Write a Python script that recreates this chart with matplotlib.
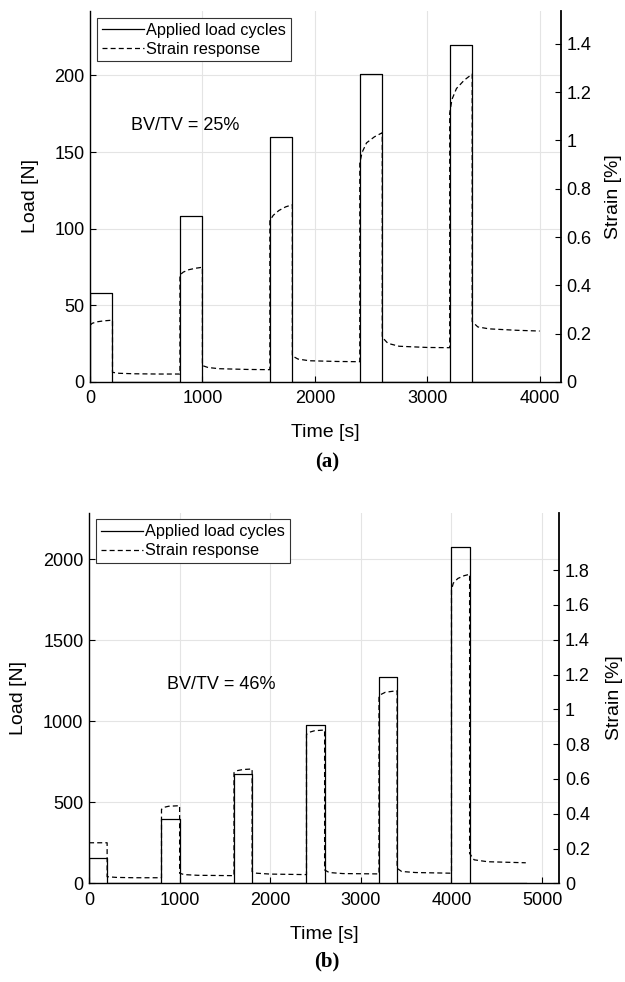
import numpy as np
import matplotlib.pyplot as plt
from matplotlib.ticker import FuncFormatter

plt.rcParams['font.family'] = ['Liberation Sans', 'DejaVu Sans']

# ---- (a) BV/TV = 25% ----
load_t_a = [0, 0, 200, 200, 800, 800, 1000, 1000, 1600, 1600, 1800, 1800,
            2400, 2400, 2600, 2600, 3200, 3200, 3400, 3400, 4000]
load_a = [0, 58, 58, 0, 0, 108, 108, 0, 0, 160, 160, 0,
          0, 201, 201, 0, 0, 220, 220, 0, 0]

strain_t_a = [0, 0, 20, 60, 120, 200, 200, 260, 400, 600, 800,
              800, 830, 880, 940, 1000, 1000, 1050, 1150, 1400, 1600,
              1600, 1630, 1680, 1740, 1800, 1800, 1850, 1950, 2200, 2400,
              2400, 2420, 2460, 2530, 2600, 2600, 2650, 2750, 3000, 3200,
              3200, 3220, 3260, 3330, 3400, 3400, 3450, 3550, 3800, 4000]
strain_a = [0, 0.235, 0.243, 0.249, 0.253, 0.256, 0.040, 0.036, 0.034, 0.033, 0.033,
            0.443, 0.455, 0.465, 0.471, 0.475, 0.068, 0.060, 0.055, 0.052, 0.051,
            0.668, 0.690, 0.710, 0.725, 0.734, 0.108, 0.095, 0.088, 0.085, 0.084,
            0.906, 0.950, 0.990, 1.015, 1.032, 0.185, 0.160, 0.148, 0.143, 0.142,
            1.113, 1.170, 1.215, 1.250, 1.275, 0.250, 0.228, 0.220, 0.214, 0.211]

# ---- (b) BV/TV = 46% ----
load_t_b = [0, 0, 200, 200, 800, 800, 1000, 1000, 1600, 1600, 1800, 1800,
            2400, 2400, 2600, 2600, 3200, 3200, 3400, 3400, 4000, 4000,
            4200, 4200, 4820]
load_b = [0, 155, 155, 0, 0, 395, 395, 0, 0, 675, 675, 0,
          0, 975, 975, 0, 0, 1272, 1272, 0, 0, 2075, 2075, 0, 0]

strain_t_b = [0, 0, 200, 200, 300, 500, 800,
              800, 830, 880, 1000, 1000, 1050, 1200, 1600,
              1600, 1640, 1700, 1800, 1800, 1850, 2000, 2400,
              2400, 2430, 2490, 2600, 2600, 2650, 2800, 3200,
              3200, 3220, 3270, 3400, 3400, 3450, 3600, 4000,
              4000, 4020, 4070, 4140, 4200, 4200, 4250, 4400, 4820]
strain_b = [0, 0.233, 0.233, 0.038, 0.034, 0.032, 0.032,
            0.425, 0.437, 0.443, 0.446, 0.058, 0.050, 0.046, 0.044,
            0.636, 0.648, 0.654, 0.657, 0.067, 0.058, 0.053, 0.050,
            0.856, 0.868, 0.877, 0.881, 0.077, 0.062, 0.056, 0.054,
            1.069, 1.085, 1.098, 1.107, 0.086, 0.068, 0.062, 0.058,
            1.686, 1.725, 1.752, 1.768, 1.776, 0.172, 0.135, 0.124, 0.118]

panels = [
    dict(rect=[0.144, 0.611, 0.7536, 0.3778], lt=load_t_a, l=load_a, st=strain_t_a, s=strain_a,
         xlim=4190, ylim=242, yticks=np.arange(0, 201, 50), slim=1.536, sticks=np.arange(0, 1.41, 0.2),
         xticks=np.arange(0, 4001, 1000), txt='BV/TV = 25%', txy=(364, 167), lab='(a)', laby=0.5295,
         loadx=-0.127, strx=1.1125),
    dict(rect=[0.1424, 0.1005, 0.7525, 0.3774], lt=load_t_b, l=load_b, st=strain_t_b, s=strain_b,
         xlim=5190, ylim=2288, yticks=np.arange(0, 2001, 500), slim=2.13, sticks=np.arange(0, 1.81, 0.2),
         xticks=np.arange(0, 5001, 1000), txt='BV/TV = 46%', txy=(858, 1230), lab='(b)', laby=0.0204,
         loadx=-0.150, strx=1.118),
]

fig = plt.figure(figsize=(6.25, 9.82), dpi=100)
fmt = FuncFormatter(lambda v, p: '%g' % round(v, 6))

for p in panels:
    ax = fig.add_axes(p['rect'])
    ax2 = ax.twinx()
    h1, = ax.plot(p['lt'], p['l'], color='black', lw=0.9, label='Applied load cycles')
    h2, = ax2.plot(p['st'], p['s'], color='black', lw=0.9, dashes=(4, 2.5), label='Strain response')

    ax.set_xlim(0, p['xlim'])
    ax.set_ylim(0, p['ylim'])
    ax2.set_ylim(0, p['slim'])
    ax.set_xticks(p['xticks'])
    ax.set_yticks(p['yticks'])
    ax2.set_yticks(p['sticks'])
    ax2.yaxis.set_major_formatter(fmt)

    ax.grid(True, color='#e4e4e4', lw=0.8)
    ax.set_axisbelow(True)
    for a in (ax, ax2):
        a.spines['top'].set_visible(False)
        a.tick_params(direction='in', length=4, width=0.8, labelsize=13, colors='black')
    ax.spines['right'].set_visible(False)
    ax2.spines['left'].set_visible(False)
    ax2.spines['bottom'].set_visible(False)
    ax.spines['left'].set_linewidth(1.0)
    ax.spines['bottom'].set_linewidth(1.0)
    ax2.spines['right'].set_linewidth(1.3)
    ax.tick_params(axis='x', pad=6)
    ax.tick_params(axis='y', pad=4)
    ax2.tick_params(axis='y', pad=4)

    ax.set_xlabel('Time [s]', fontsize=14, va='center')
    ax.xaxis.set_label_coords(0.5, -0.137)
    ax.set_ylabel('Load [N]', fontsize=14, va='center')
    ax.yaxis.set_label_coords(p['loadx'], 0.5)
    ax2.set_ylabel('Strain [%]', fontsize=14, rotation=90, va='center')
    ax2.yaxis.set_label_coords(p['strx'], 0.5)

    ax.text(p['txy'][0], p['txy'][1], p['txt'], fontsize=13, va='center', ha='left')

    leg = ax2.legend([h1, h2], ['Applied load cycles', 'Strain response'], loc='upper left',
                     bbox_to_anchor=(0.015, 0.982), borderaxespad=0, fontsize=11.7,
                     fancybox=False, framealpha=1, edgecolor='#333333', handlelength=2.6,
                     handletextpad=0.1, borderpad=0.3, labelspacing=0.25)
    leg.get_frame().set_linewidth(0.8)

    fig.text(0.523, p['laby'], p['lab'], fontsize=15, fontweight='bold',
             family='Liberation Serif', ha='center', va='center')

fig.savefig('out.png', dpi=100)
